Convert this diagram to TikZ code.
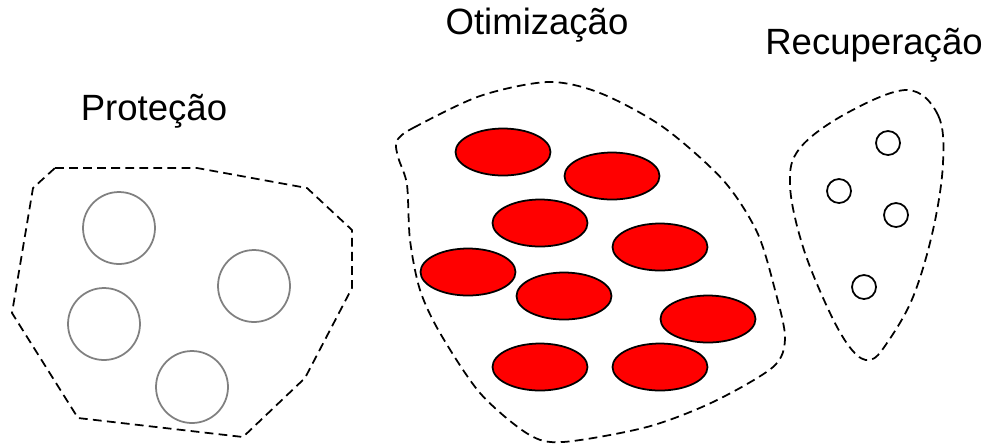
\documentclass[tikz,border=0pt]{standalone}
\usepackage{fontspec}
\setmainfont{Liberation Sans}
\usepackage{xcolor}
\usetikzlibrary{shapes.geometric}

\tikzset{
	region/.style={draw, dashed, dash pattern=on 5pt off 3pt, line width=1pt},
	guard/.style={circle, draw=gray, line width=1pt, minimum size=1.44cm, inner sep=0pt},
	cell/.style={ellipse, draw, fill=red, line width=1pt, minimum width=1.9cm, minimum height=0.94cm, inner sep=0pt},
	spare/.style={circle, draw, line width=1pt, minimum size=0.48cm, inner sep=0pt},
	title/.style={font=\fontsize{20.8}{24}\selectfont}
}

\begin{document}
\begin{tikzpicture}[x=0.02cm, y=-0.02cm]
		\useasboundingbox (0, 0) rectangle (989, 444);
		% Titles
		\node[title] (prot) at (154, 111) {Proteção};
		\node[title] (otim) at (537, 25) {Otimização};
		\node[title] (recu) at (874, 45) {Recuperação};
		% Regions
		%% Left region
		\draw[region] (55, 168) -- (197, 168) -- (307, 188) -- (352, 230) -- (352, 288)
			-- (305, 378) -- (243, 437) -- (78, 418) -- (12, 313) -- (33, 188) -- cycle;
		%% Middle region
		\draw[region] plot[smooth cycle, tension=0.5] coordinates {
			(398, 139) (413, 128) (480, 96) (548, 82) (600, 93) (663, 127)
			(723, 180) (757, 232) (775, 290) (785, 338) (773, 367) (713, 402)
			(647, 427) (563, 442) (528, 434) (480, 393) (440, 333) (420, 290)
			(410, 240) (407, 185) (399, 160) (396, 147)};
		%% Right region
		\draw[region] plot[smooth cycle, tension=0.6] coordinates {
			(907, 90) (938, 115) (943, 163) (933, 230) (913, 297) (887, 343)
			(870, 360) (852, 350) (830, 313) (803, 247) (790, 185) (800, 148)
			(847, 113)};
		% Left circles
		\node[guard] (p1) at (119, 228) {};
		\node[guard] (p2) at (254, 286) {};
		\node[guard] (p3) at (104, 324) {};
		\node[guard] (p4) at (192, 387) {};
		% Middle ellipses
		\node[cell] (o1) at (503, 152) {};
		\node[cell] (o2) at (612, 176) {};
		\node[cell] (o3) at (540, 223) {};
		\node[cell] (o4) at (660, 247) {};
		\node[cell] (o5) at (468, 272) {};
		\node[cell] (o6) at (564, 296) {};
		\node[cell] (o7) at (708, 319) {};
		\node[cell] (o8) at (540, 367) {};
		\node[cell] (o9) at (660, 367) {};
		% Right circles
		\node[spare] (r1) at (888, 143) {};
		\node[spare] (r2) at (839, 191) {};
		\node[spare] (r3) at (896, 215) {};
		\node[spare] (r4) at (864, 287) {};
	\end{tikzpicture}
\end{document}
